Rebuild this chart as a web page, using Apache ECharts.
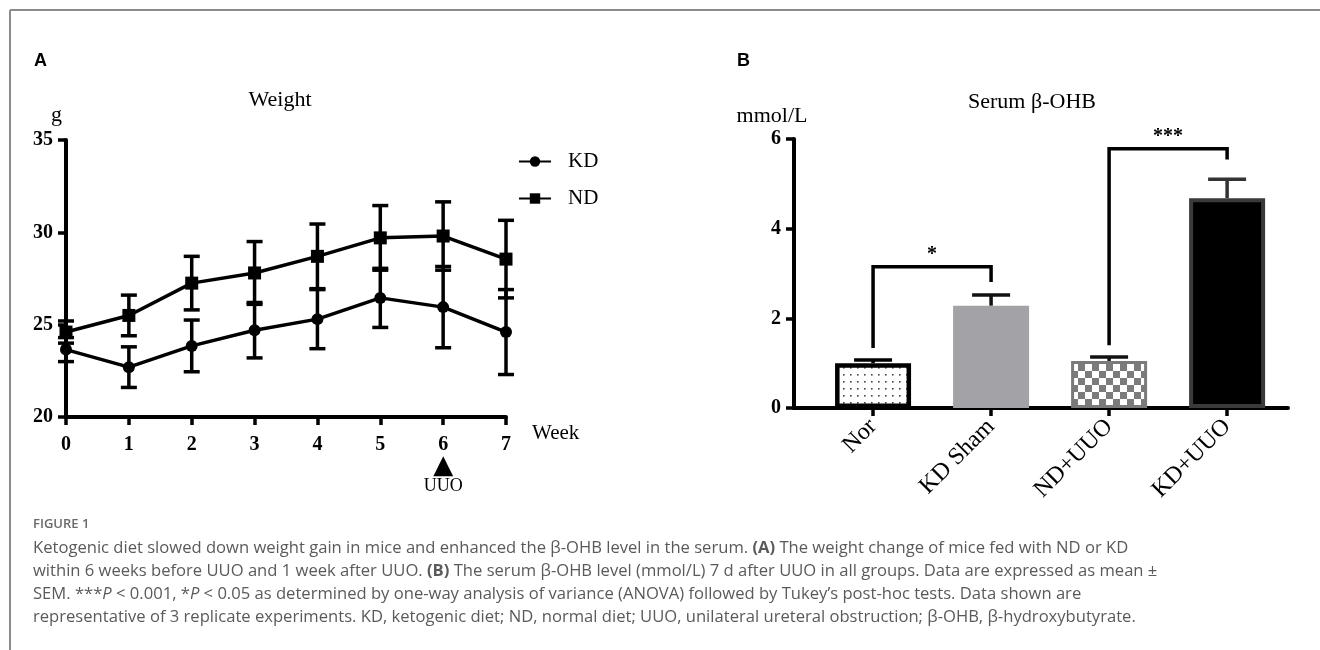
<!DOCTYPE html>
<html>
<head>
<meta charset="utf-8">
<script src="https://cdn.jsdelivr.net/npm/echarts@6/dist/echarts.min.js"></script>
<style>
html,body{margin:0;padding:0;background:#fff;}
#chart{width:1320px;height:650px;}
</style>
</head>
<body>
<div id="chart"></div>
<script>
// ---------- Panel A data ----------
const weeks = [0, 1, 2, 3, 4, 5, 6, 7];
const kdMean = [23.65, 22.7, 23.85, 24.7, 25.3, 26.45, 25.95, 24.6];
const kdSem  = [0.65, 1.1, 1.4, 1.5, 1.6, 1.6, 2.2, 2.3];
const ndMean = [24.6, 25.5, 27.25, 27.8, 28.7, 29.7, 29.8, 28.55];
const ndSem  = [0.6, 1.1, 1.45, 1.7, 1.75, 1.75, 1.85, 2.1];
const weightTicks = [20, 25, 30, 35];

// ---------- Panel B data ----------
const groups = ['Nor', 'KD Sham', 'ND+UUO', 'KD+UUO'];
const serumMean = [1.0, 2.28, 1.05, 4.68];
const serumSem  = [0.07, 0.24, 0.09, 0.42];
const serumTicks = [0, 2, 4, 6];
// significance brackets: [left group, right group, label]
const sigPairs = [[0, 1, '*'], [2, 3, '***']];
const sigTop = [3.15, 5.78];
const sigLeftEnd = [1.34, 1.40];
const sigRightEnd = [2.81, 5.54];

const SERIF = '"Liberation Serif", "Times New Roman", serif';
const SANS = '"Liberation Sans", Arial, sans-serif';
const CAP = '"Open Sans", "Noto Sans", sans-serif';

function makePattern(kind) {
  const c = document.createElement('canvas');
  if (kind === 'dots') {
    c.width = 7; c.height = 7;
    const g = c.getContext('2d');
    g.fillStyle = '#fff'; g.fillRect(0, 0, 7, 7);
    g.fillStyle = '#444'; g.fillRect(3, 3, 1.6, 1.6);
  } else {
    c.width = 14; c.height = 14;
    const g = c.getContext('2d');
    g.fillStyle = '#fff'; g.fillRect(0, 0, 14, 14);
    g.fillStyle = '#7b7b7b'; g.fillRect(0, 0, 7, 7); g.fillRect(7, 7, 7, 7);
  }
  return c;
}

const barStyles = [
  { color: { image: makePattern('dots'), repeat: 'repeat' }, borderColor: '#000', borderWidth: 4.5 },
  { color: '#a3a3a7', borderWidth: 0 },
  { color: { image: makePattern('checker'), repeat: 'repeat' }, borderColor: '#7a7a7a', borderWidth: 3 },
  { color: '#000', borderColor: '#3a3a3a', borderWidth: 4 }
];
const errColors = ['#000', '#111', '#111', '#333'];

function errRenderA(params, api) {
  const x = api.value(0), lo = api.value(1), hi = api.value(2);
  const p1 = api.coord([x, lo]), p2 = api.coord([x, hi]);
  const st = { stroke: '#000', lineWidth: 3.5 };
  const h = 8;
  return { type: 'group', children: [
    { type: 'line', shape: { x1: p1[0], y1: p1[1], x2: p2[0], y2: p2[1] }, style: st },
    { type: 'line', shape: { x1: p1[0] - h, y1: p1[1], x2: p1[0] + h, y2: p1[1] }, style: st },
    { type: 'line', shape: { x1: p2[0] - h, y1: p2[1], x2: p2[0] + h, y2: p2[1] }, style: st }
  ]};
}

function errRenderB(params, api) {
  const x = api.value(0), m = api.value(1), hi = api.value(2);
  const p1 = api.coord([x, m]), p2 = api.coord([x, hi]);
  const st = { stroke: errColors[params.dataIndex], lineWidth: 3.5 };
  const h = 19;
  return { type: 'group', children: [
    { type: 'line', shape: { x1: p1[0], y1: p1[1], x2: p2[0], y2: p2[1] }, style: st },
    { type: 'line', shape: { x1: p2[0] - h, y1: p2[1], x2: p2[0] + h, y2: p2[1] }, style: st }
  ]};
}

function sigRender(params, api) {
  const a = api.value(0), b = api.value(1), top = api.value(2), l = api.value(3), r = api.value(4);
  const pL = api.coord([a, l]), pT1 = api.coord([a, top]), pT2 = api.coord([b, top]), pR = api.coord([b, r]);
  const label = sigPairs[params.dataIndex][2];
  return { type: 'group', children: [
    { type: 'polyline', shape: { points: [pL, pT1, pT2, pR] }, style: { stroke: '#000', lineWidth: 3.5, fill: null } },
    { type: 'text', style: { text: label, x: (pT1[0] + pT2[0]) / 2, y: pT1[1] - 2, textAlign: 'center', textVerticalAlign: 'bottom', font: 'bold 20px ' + SERIF, fill: '#000' } }
  ]};
}

const axisLine = { onZero: false, lineStyle: { color: '#000', width: 4 } };
const axisTick = { length: 8, lineStyle: { color: '#000', width: 3.5 } };
const tickLabel = { color: '#000', fontFamily: SERIF, fontWeight: 'bold', fontSize: 20 };

const chart = echarts.init(document.getElementById('chart'), null, { renderer: 'canvas' });

const CAPCOL = '#5a5a5a';
const CAPSIZE = 16.6;
const captionRich = {
  b: { fontFamily: CAP, fontSize: CAPSIZE, fontWeight: 'bold', fill: CAPCOL, color: CAPCOL },
  i: { fontFamily: CAP, fontSize: CAPSIZE, fontStyle: 'italic', fill: CAPCOL, color: CAPCOL }
};
const captionLines = [
  'Ketogenic diet slowed down weight gain in mice and enhanced the β-OHB level in the serum. {b|(A)} The weight change of mice fed with ND or KD',
  'within 6 weeks before UUO and 1 week after UUO. {b|(B)} The serum β-OHB level (mmol/L) 7 d after UUO in all groups. Data are expressed as mean ±',
  'SEM. ***{i|P} < 0.001, *{i|P} < 0.05 as determined by one-way analysis of variance (ANOVA) followed by Tukey’s post-hoc tests. Data shown are',
  'representative of 3 replicate experiments. KD, ketogenic diet; ND, normal diet; UUO, unilateral ureteral obstruction; β-OHB, β-hydroxybutyrate.'
];

const graphics = [
  { type: 'line', shape: { x1: 10, y1: 10, x2: 1320, y2: 10 }, style: { stroke: '#8c8c8c', lineWidth: 2 } },
  { type: 'line', shape: { x1: 10, y1: 10, x2: 10, y2: 650 }, style: { stroke: '#8c8c8c', lineWidth: 2 } },
  { type: 'text', left: 33, top: 518, style: { text: 'FIGURE 1', font: '600 13px ' + CAP, fill: '#6a6a6a' } }
];
captionLines.forEach((t, i) => {
  graphics.push({ type: 'text', left: 33, top: 540 + i * 23, style: { text: t, font: CAPSIZE + 'px ' + CAP, fill: CAPCOL, rich: captionRich } });
});

chart.setOption({
  animation: false,
  backgroundColor: '#fff',
  title: [
    { text: 'A', left: 34, top: 52, padding: 0, textStyle: { fontFamily: SANS, fontWeight: 'bold', fontSize: 18, color: '#000' } },
    { text: 'B', left: 737, top: 52, padding: 0, textStyle: { fontFamily: SANS, fontWeight: 'bold', fontSize: 18, color: '#000' } },
    { text: 'Weight', left: 280, textAlign: 'center', top: 89, padding: 0, textStyle: { fontFamily: SERIF, fontWeight: 'normal', fontSize: 22, color: '#000' } },
    { text: 'Serum β-OHB', left: 1032, textAlign: 'center', top: 91, padding: 0, textStyle: { fontFamily: SERIF, fontWeight: 'normal', fontSize: 22, color: '#000' } }
  ],
  graphic: graphics,
  legend: {
    data: ['KD', 'ND'], orient: 'vertical', left: 518, top: 151, padding: 0, itemWidth: 32, itemHeight: 13, itemGap: 16,
    textStyle: { fontFamily: SERIF, fontSize: 21, color: '#000', padding: [0, 0, 0, 12] }, itemStyle: { color: '#000' }
  },
  grid: [
    { left: 66, top: 140, width: 440, height: 277 },
    { left: 794, top: 139, width: 494, height: 269 }
  ],
  xAxis: [
    {
      gridIndex: 0, type: 'value', min: 0, max: 7, interval: 1,
      axisLine: axisLine, axisTick: axisTick, splitLine: { show: false },
      axisLabel: Object.assign({}, tickLabel, {
        margin: 18,
        formatter: v => v === 6 ? '6\n{arr|▲}\n{u|UUO}' : String(v),
        rich: {
          arr: { fontFamily: '"DejaVu Sans"', fontSize: 26, lineHeight: 23, color: '#000', fontWeight: 'normal' },
          u: { fontFamily: SERIF, fontSize: 18, lineHeight: 17, color: '#000', fontWeight: 'normal' }
        }
      }),
      name: 'Week', nameLocation: 'end', nameGap: 26,
      nameTextStyle: { fontFamily: SERIF, fontSize: 21, color: '#000', verticalAlign: 'top', padding: [6, 0, 0, 0] }
    },
    {
      gridIndex: 1, type: 'value', min: -0.67, max: 3.516,
      axisLine: axisLine, splitLine: { show: false },
      axisTick: Object.assign({}, axisTick, { customValues: [0, 1, 2, 3] }),
      axisLabel: {
        customValues: [0, 1, 2, 3], rotate: 45, margin: 15,
        fontFamily: SERIF, fontSize: 24, color: '#000',
        formatter: v => groups[Math.round(v)]
      }
    }
  ],
  yAxis: [
    {
      gridIndex: 0, type: 'value', min: 20, max: 35, interval: 5,
      axisLine: Object.assign({ show: true }, axisLine), axisTick: Object.assign({ show: true }, axisTick),
      splitLine: { show: false }, axisLabel: Object.assign({ margin: 13 }, tickLabel),
      name: 'g', nameLocation: 'end', nameGap: 14,
      nameTextStyle: { fontFamily: SERIF, fontSize: 22, color: '#000', align: 'right', padding: [0, 4, 0, 0] }
    },
    {
      gridIndex: 1, type: 'value', min: 0, max: 6, interval: 2,
      axisLine: Object.assign({ show: true }, axisLine), axisTick: Object.assign({ show: true }, axisTick),
      splitLine: { show: false }, axisLabel: Object.assign({ margin: 13 }, tickLabel),
      name: 'mmol/L', nameLocation: 'end', nameGap: 12,
      nameTextStyle: { fontFamily: SERIF, fontSize: 22, color: '#000', align: 'center', padding: [0, 44, 0, 0] }
    }
  ],
  series: [
    {
      name: 'KD err', type: 'custom', xAxisIndex: 0, yAxisIndex: 0, renderItem: errRenderA, silent: true,
      data: weeks.map((w, i) => [w, kdMean[i] - kdSem[i], kdMean[i] + kdSem[i]]), z: 2
    },
    {
      name: 'ND err', type: 'custom', xAxisIndex: 0, yAxisIndex: 0, renderItem: errRenderA, silent: true,
      data: weeks.map((w, i) => [w, ndMean[i] - ndSem[i], ndMean[i] + ndSem[i]]), z: 2
    },
    {
      name: 'KD', type: 'line', xAxisIndex: 0, yAxisIndex: 0, symbol: 'circle', symbolSize: 12,
      lineStyle: { color: '#000', width: 3.5 }, itemStyle: { color: '#000' },
      data: weeks.map((w, i) => [w, kdMean[i]]), z: 3
    },
    {
      name: 'ND', type: 'line', xAxisIndex: 0, yAxisIndex: 0, symbol: 'rect', symbolSize: 13,
      lineStyle: { color: '#000', width: 3.5 }, itemStyle: { color: '#000' },
      data: weeks.map((w, i) => [w, ndMean[i]]), z: 3
    },
    {
      name: 'Serum', type: 'bar', xAxisIndex: 1, yAxisIndex: 1, barWidth: 76,
      data: groups.map((g, i) => ({ value: [i, serumMean[i]], itemStyle: barStyles[i] })), z: 3
    },
    {
      name: 'Serum err', type: 'custom', xAxisIndex: 1, yAxisIndex: 1, renderItem: errRenderB, silent: true,
      data: groups.map((g, i) => [i, serumMean[i], serumMean[i] + serumSem[i]]), z: 2
    },
    {
      name: 'sig', type: 'custom', xAxisIndex: 1, yAxisIndex: 1, renderItem: sigRender, silent: true,
      data: sigPairs.map((p, i) => [p[0], p[1], sigTop[i], sigLeftEnd[i], sigRightEnd[i]]), z: 4
    }
  ]
});
</script>
</body>
</html>
